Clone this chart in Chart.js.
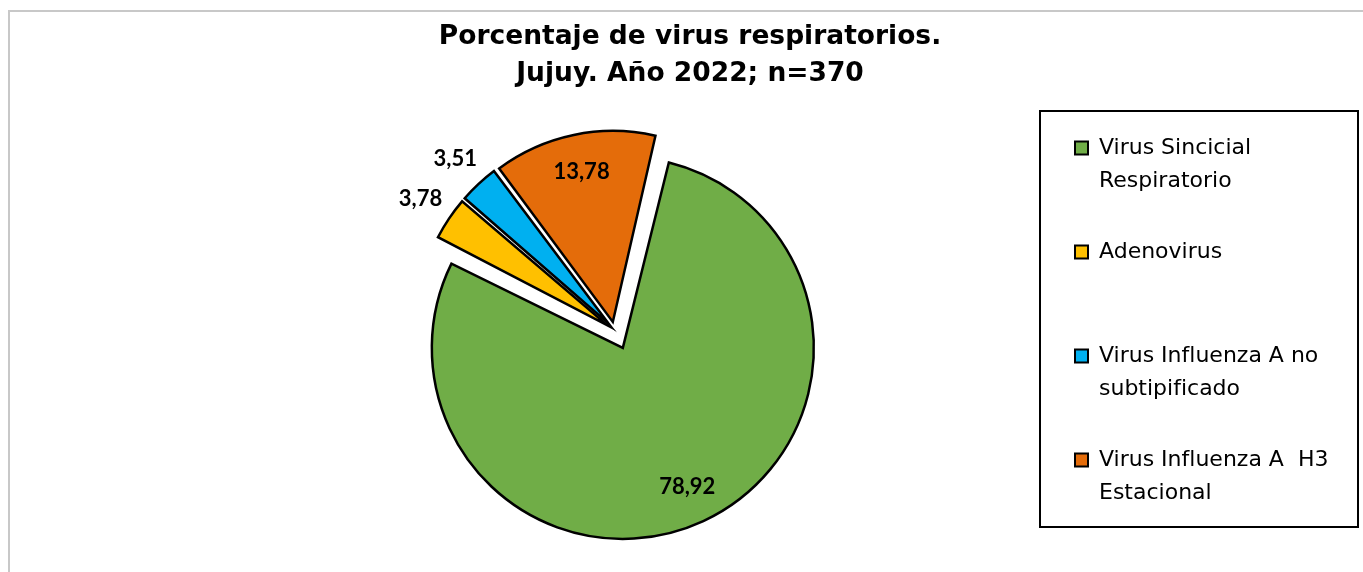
<!DOCTYPE html>
<html lang="es">
<head>
    <meta charset="UTF-8" />
    <title>Porcentaje de virus respiratorios</title>
    <script src="https://cdn.jsdelivr.net/npm/chart.js"></script>
    <style>
        html, body {
            margin: 0;
            padding: 0;
            background: #fff;
            overflow: hidden;
        }
        /* borde gris del área del gráfico */
        .marco {
            position: absolute;
            left: 8px;
            top: 10px;
            width: 1500px;
            height: 700px;
            border: 2px solid #c8c8c8;
            box-sizing: border-box;
        }
        .chart-container {
            position: absolute;
            left: 0;
            top: 0;
            width: 1363px;
            height: 572px;
        }
    </style>
</head>
<body>
<div class="marco"></div>
<div class="chart-container">
    <canvas id="virusChart"></canvas>
</div>

<script>
const categorias = [
    ['Virus Sincicial', 'Respiratorio'],
    ['Adenovirus'],
    ['Virus Influenza A no', 'subtipificado'],
    ['Virus Influenza A  H3', 'Estacional']
];
const porcentajes = [78.92, 3.78, 3.51, 13.78];
const colores = ['#70AD47', '#FFC000', '#00B0F0', '#E46C0A'];
const separacion = [79, 34, 34, 33];   // explosión de cada porción
const titulo = ['Porcentaje de virus respiratorios.', 'Jujuy. Año 2022; n=370'];

const RADIO = 191;

// Chart.js agranda el radio de las porciones separadas; se corrige para que todas queden iguales
const radioIgual = {
    id: 'radioIgual',
    afterDatasetUpdate(chart, args) {
        args.meta.data.forEach(arc => {
            const desp = (arc.options.offset || 0) / 4;
            const fix = 1 - Math.sin(Math.min(Math.PI, arc.circumference));
            arc.outerRadius = RADIO - desp * fix;
        });
    }
};

// la leyenda se limita en ancho para ubicar la torta; se amplía su zona de dibujo para que no recorte el texto
const anchoLeyenda = {
    id: 'anchoLeyenda',
    afterLayout(chart) {
        const lg = chart.legend;
        lg.right = chart.width;
        lg.width = lg.right - lg.left;
    }
};

// etiquetas de datos
const etiquetas = {
    id: 'etiquetas',
    afterDatasetsDraw(chart) {
        const ctx = chart.ctx;
        const meta = chart.getDatasetMeta(0);
        ctx.save();
        ctx.font = 'bold 22px Lato';
        ctx.fillStyle = '#000';
        ctx.textAlign = 'center';
        ctx.textBaseline = 'middle';
        meta.data.forEach((arc, i) => {
            const p = arc.getProps(['x', 'y', 'startAngle', 'endAngle'], true);
            const mid = (p.startAngle + p.endAngle) / 2;
            const desp = (arc.options.offset || 0) / 4;
            const d = desp + RADIO * (porcentajes[i] < 5 ? 1.18 : 0.8);
            const txt = porcentajes[i].toFixed(2).replace('.', ',');
            ctx.fillText(txt, p.x + Math.cos(mid) * d, p.y + Math.sin(mid) * d);
        });
        ctx.restore();
    }
};

// marco negro de la leyenda
const marcoLeyenda = {
    id: 'marcoLeyenda',
    afterDraw(chart) {
        const hb = chart.legend.legendHitBoxes;
        if (!hb || !hb.length) return;
        const ctx = chart.ctx;
        ctx.save();
        ctx.strokeStyle = '#000';
        ctx.lineWidth = 2;
        ctx.strokeRect(hb[0].left - 35, hb[0].top - 26, 318, 416);
        ctx.restore();
    }
};

new Chart(document.getElementById('virusChart'), {
    type: 'pie',
    data: {
        labels: categorias,
        datasets: [{
            data: porcentajes,
            backgroundColor: colores,
            borderColor: '#000',
            borderWidth: 2.5,
            borderJoinStyle: 'miter',
            offset: separacion
        }]
    },
    options: {
        responsive: true,
        maintainAspectRatio: false,
        animation: false,
        events: [],
        rotation: 13,
        radius: RADIO,
        layout: {
            padding: { left: 192, right: 175, top: 0, bottom: 11 }
        },
        plugins: {
            title: {
                display: true,
                text: titulo,
                color: '#000',
                font: { family: 'DejaVu Sans', size: 26.5, weight: 'bold', lineHeight: 37 / 26.5 },
                padding: { top: 19, bottom: 6 }
            },
            legend: {
                position: 'right',
                align: 'start',
                fullSize: false,
                maxWidth: 151,
                labels: {
                    color: '#000',
                    boxWidth: 13,
                    boxHeight: 13,
                    padding: 38,
                    font: { family: 'DejaVu Sans', size: 22, lineHeight: 33 / 22 },
                    generateLabels: chart => {
                        const base = Chart.overrides.doughnut.plugins.legend.labels.generateLabels(chart);
                        return base.map(item => {
                            const lineas = [].concat(item.text);
                            while (lineas.length < 2) lineas.push('');
                            return Object.assign({}, item, { text: lineas, lineWidth: 2 });
                        });
                    }
                }
            },
            tooltip: { enabled: false }
        }
    },
    plugins: [radioIgual, anchoLeyenda, etiquetas, marcoLeyenda]
});
</script>
</body>
</html>
